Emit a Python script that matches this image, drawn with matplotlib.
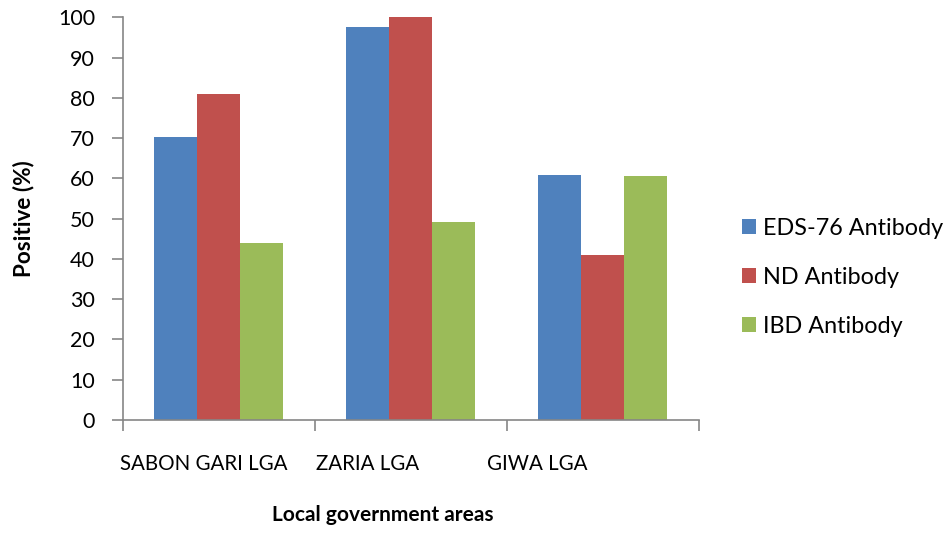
import matplotlib
matplotlib.use("Agg")
import matplotlib.pyplot as plt
import numpy as np

categories = ["SABON GARI LGA", "ZARIA LGA", "GIWA LGA"]
series_names = ["EDS-76 Antibody", "ND Antibody", "IBD Antibody"]
eds76 = [70.3, 97.6, 60.8]
nd = [80.9, 100.0, 41.0]
ibd = [44.0, 49.2, 60.6]
y_ticks = [0, 10, 20, 30, 40, 50, 60, 70, 80, 90, 100]

colors = ["#4F81BD", "#C0504D", "#9BBB59"]
axis_grey = "#868686"

plt.rcParams["font.family"] = ["Lato", "DejaVu Sans"]
FS = 15.5

fig = plt.figure(figsize=(9.48, 5.33), dpi=100)
ax = fig.add_axes([122.7 / 948, 113 / 533, (699 - 122.7) / 948, (420 - 17.3) / 533])

x = np.arange(len(categories))
width = 0.224
for i, (vals, name, c) in enumerate(zip([eds76, nd, ibd], series_names, colors)):
    ax.bar(x + (i - 1) * width, vals, width, color=c, label=name, linewidth=0)

ax.set_xlim(-0.5, len(categories) - 0.5)
ax.set_ylim(0, 100)
ax.set_yticks(y_ticks)
ax.tick_params(axis="y", direction="out", length=8, width=1.2, color=axis_grey,
               labelsize=FS, pad=12, labelcolor="black")

# category boundary ticks without labels; labels drawn separately
ax.set_xticks(np.arange(len(categories) + 1) - 0.5)
ax.set_xticklabels([])
ax.tick_params(axis="x", direction="out", length=8, width=1.2, color=axis_grey)

for side in ["top", "right"]:
    ax.spines[side].set_visible(False)
for side in ["left", "bottom"]:
    ax.spines[side].set_color(axis_grey)
    ax.spines[side].set_linewidth(1.2)

label_px = [204, 368, 537.5]
for lab, px in zip(categories, label_px):
    fig.text(px / 948, 1 - 464 / 533, lab, ha="center", va="center", fontsize=14.8)

fig.text(382.5 / 948, 1 - 515 / 533, "Local government areas", ha="center",
         va="center", fontsize=15, fontweight="bold")
fig.text(24 / 948, 1 - 218.5 / 533, "Positive (%)", ha="center", va="center",
         rotation=90, fontsize=16.2, fontweight="bold")

handles, labels = ax.get_legend_handles_labels()
leg = fig.legend(handles, labels, loc="upper left", bbox_to_anchor=(741.5 / 948, 1 - 217.5 / 533),
                 frameon=False, fontsize=16.8, handlelength=0.62, handleheight=0.62,
                 handletextpad=0.3, labelspacing=1.2, borderaxespad=0, borderpad=0)

fig.savefig("out.png", dpi=100)
